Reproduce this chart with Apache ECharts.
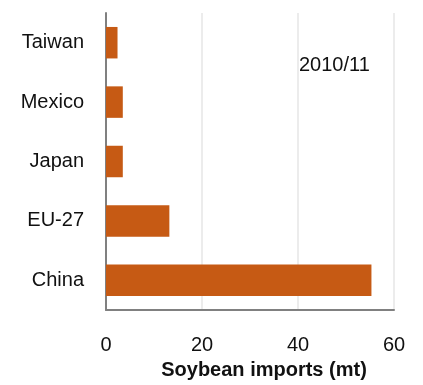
<!DOCTYPE html>
<html>
<head>
<meta charset="utf-8">
<script src="https://cdn.jsdelivr.net/npm/echarts@6/dist/echarts.min.js"></script>
<style>
  html, body { margin: 0; padding: 0; background: #fff; }
  #chart { width: 423px; height: 385px; }
</style>
</head>
<body>
<div id="chart"></div>
<script>
// data
const countries = ['China', 'EU-27', 'Japan', 'Mexico', 'Taiwan']
const imports = [55.3, 13.2, 3.5, 3.5, 2.4]
const xTicks = [0, 20, 40, 60]

const myChart = echarts.init(document.getElementById('chart'))
const font = 'Liberation Sans, Helvetica, Arial, sans-serif'

const option = {
  animation: false,
  textStyle: { fontFamily: font },
  grid: { left: 106, right: 29, top: 13, bottom: 72 },
  graphic: [{
    type: 'text',
    left: 299,
    top: 55,
    style: { text: '2010/11', fontSize: 20, fill: '#111', fontFamily: font }
  }],
  xAxis: {
    type: 'value',
    min: xTicks[0],
    max: xTicks[xTicks.length - 1],
    interval: 20,
    name: 'Soybean imports (mt)',
    nameLocation: 'middle',
    nameGap: 50,
    nameTextStyle: {
      fontSize: 20, fontWeight: 'bold', color: '#111',
      padding: [0, 0, 0, 28]
    },
    axisLine: { show: true, lineStyle: { color: '#808080', width: 2 } },
    axisTick: { show: false },
    axisLabel: { fontSize: 20, color: '#111', margin: 25 },
    splitLine: { show: true, lineStyle: { color: '#e6e6e6', width: 1.5 } }
  },
  yAxis: {
    type: 'category',
    data: countries,
    axisLine: { show: true, lineStyle: { color: '#808080', width: 2 } },
    axisTick: { show: false },
    axisLabel: { fontSize: 20, color: '#111', margin: 22 }
  },
  series: [{
    type: 'bar',
    data: imports,
    barWidth: '53%',
    itemStyle: { color: '#c65a14' }
  }]
}

myChart.setOption(option)
</script>
</body>
</html>
